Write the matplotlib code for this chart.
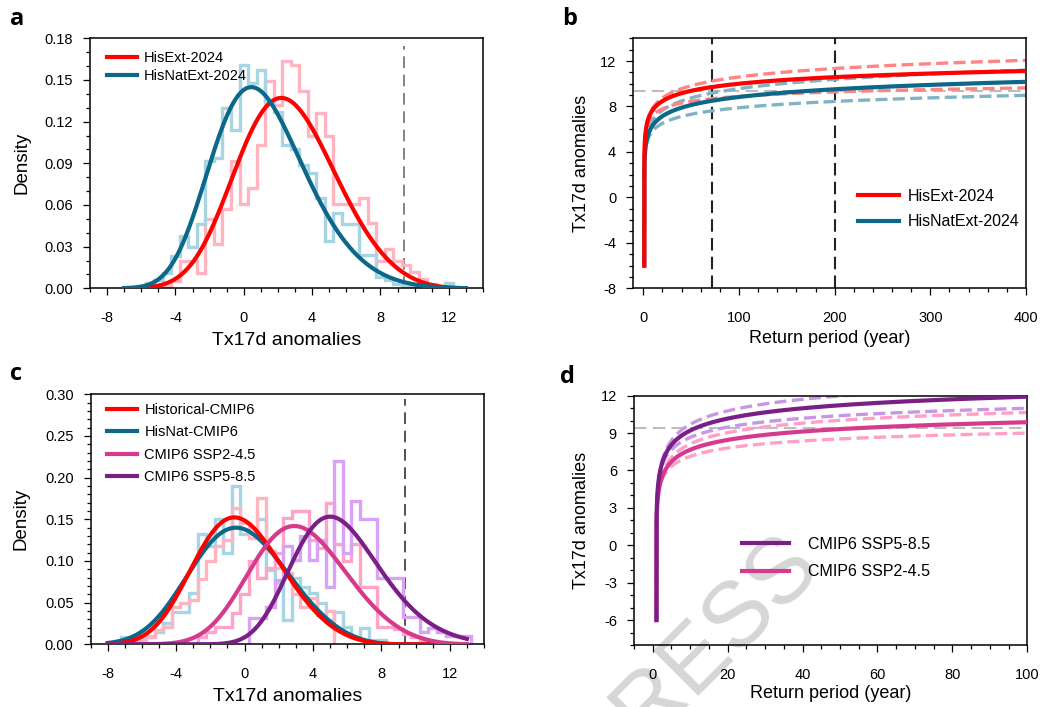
import numpy as np
import matplotlib
matplotlib.use("Agg")
import matplotlib.pyplot as plt
from matplotlib.ticker import MultipleLocator, FormatStrFormatter

plt.rcParams['font.family'] = ['Liberation Sans', 'DejaVu Sans']
plt.rcParams['axes.unicode_minus'] = False

# ---------------------------------------------------------------- data
BIN_WIDTH = 0.5
EVENT_2024 = 9.4          # observed Tx17d anomaly
RP_MARKS = [72, 200]      # return periods of the event (HisExt, HisNatExt)

# panel a: histograms (left bin edge + densities per 0.5 bin)
a_ext_left = -4.75
a_ext_dens = [0.002, 0.005, 0.020, 0.020, 0.011, 0.050, 0.032, 0.057, 0.092,
              0.061, 0.072, 0.103, 0.149, 0.132, 0.164, 0.161, 0.142, 0.110,
              0.126, 0.110, 0.061, 0.061, 0.061, 0.065, 0.047, 0.020, 0.028,
              0.020, 0.017, 0.012, 0.007, 0.003, 0.001]
a_nat_left = -6.75
a_nat_dens = [0.001, 0.002, 0.004, 0.006, 0.011, 0.023, 0.038, 0.030, 0.046,
              0.092, 0.094, 0.130, 0.114, 0.161, 0.148, 0.157, 0.135, 0.127,
              0.103, 0.100, 0.089, 0.083, 0.065, 0.034, 0.054, 0.046, 0.046,
              0.024, 0.024, 0.008, 0.006, 0.003, 0.002, 0.001, 0.001, 0.000,
              0.000, 0.004]

# panel c: histograms
c_hist_left = -6.75
c_hist_dens = [0.003, 0.005, 0.009, 0.017, 0.021, 0.045, 0.050, 0.053, 0.078,
               0.100, 0.118, 0.125, 0.164, 0.145, 0.128, 0.175, 0.112, 0.092,
               0.085, 0.060, 0.045, 0.055, 0.035, 0.040]
c_nat_left = -7.25
c_nat_dens = [0.009, 0.009, 0.009, 0.010, 0.015, 0.025, 0.039, 0.039, 0.061,
              0.132, 0.118, 0.150, 0.110, 0.190, 0.132, 0.132, 0.150, 0.089,
              0.073, 0.029, 0.079, 0.069, 0.061, 0.049, 0.029, 0.039, 0.021,
              0.009, 0.019, 0.005, 0.005]
c_245_left = -2.75
c_245_dens = [0.009, 0.015, 0.021, 0.021, 0.037, 0.060, 0.100, 0.079, 0.091,
              0.110, 0.152, 0.160, 0.160, 0.125, 0.115, 0.170, 0.120, 0.100,
              0.120, 0.069, 0.069, 0.021, 0.021, 0.018, 0.012, 0.009, 0.005,
              0.003]
c_585_left = 0.25
c_585_dens = [0.031, 0.031, 0.045, 0.077, 0.118, 0.101, 0.130, 0.101, 0.125,
              0.069, 0.220, 0.110, 0.172, 0.150, 0.150, 0.079, 0.079, 0.079,
              0.033, 0.033, 0.015, 0.020, 0.015, 0.010, 0.010, 0.010]

# fitted GEV distributions (location, scale, shape) for the density curves
a_ext_fit = (1.53, 2.755, -0.22)
a_nat_fit = (0.03, 2.57, -0.15)
c_hist_fit = (-1.20, 2.48, -0.22)
c_nat_fit = (-1.255, 2.72, -0.25)
c_245_fit = (2.26, 2.66, -0.22)
c_585_fit = (4.61, 2.43, -0.15)

# return-level fits: central estimate, upper and lower bounds
b_ext_rl = [(4.97, 1.365, -0.10), (4.97, 1.37, -0.05), (4.97, 1.18, -0.15)]
b_nat_rl = [(3.70, 1.25, -0.05), (4.19, 1.17, 0.0), (3.70, 1.02, -0.05)]
d_585_rl = [(5.23, 2.16, -0.185), (5.23, 2.43, -0.185), (5.23, 1.86, -0.185)]
d_245_rl = [(4.31, 1.85, -0.20), (4.31, 2.11, -0.20), (4.31, 1.56, -0.20)]

# ---------------------------------------------------------------- colours
RED, RED_H, RED_CI = '#ff0000', '#ffb4bf', '#ff8585'
BLUE, BLUE_H, BLUE_CI = '#0b6888', '#a8d5e4', '#80b3c6'
PINK, PINK_H, PINK_CI = '#d63a8d', '#ffa3c8', '#ff9fca'
PURP, PURP_H, PURP_CI = '#7a1f86', '#d9a2f4', '#c996e5'


def gev_t(x, mu, sigma, xi):
    z = (x - mu) / sigma
    if xi == 0:
        return np.exp(-z)
    base = np.clip(1 + xi * z, 1e-300, None)
    return base ** (-1.0 / xi)


def gev_pdf(x, mu, sigma, xi):
    t = gev_t(x, mu, sigma, xi)
    pdf = t ** (xi + 1) * np.exp(-t) / sigma
    if xi != 0:
        pdf = np.where(1 + xi * (x - mu) / sigma > 0, pdf, 0.0)
    return pdf


def return_curve(ax, params, tmax, **kw):
    x = np.linspace(-6, 14, 8000)
    exceed = -np.expm1(-gev_t(x, *params))
    with np.errstate(divide='ignore'):
        T = 1.0 / exceed
    m = T <= tmax * 1.02
    ax.plot(T[m], x[m], **kw)


def stairs(ax, left, dens, color):
    edges = left + BIN_WIDTH * np.arange(len(dens) + 1)
    ax.stairs(dens, edges, color=color, lw=2.4, zorder=2)


def style(ax):
    for s in ax.spines.values():
        s.set_linewidth(1.1)
    ax.tick_params(which='both', direction='out', top=False, right=False,
                   labelsize=10.5, width=0.9)
    ax.tick_params(which='major', length=4.8)
    ax.tick_params(axis='x', which='major', pad=11.5)
    ax.tick_params(axis='y', which='major', pad=7.5)
    ax.tick_params(which='minor', length=2.8)


fig = plt.figure(figsize=(10.43, 7.07), dpi=100)
W, H = 1043.0, 707.0


def axes_px(left, top, width, height):
    return fig.add_axes([left / W, 1 - (top + height) / H, width / W, height / H])


# ---------------------------------------------------------------- panel a
ax = axes_px(90, 38.3, 393, 250)
stairs(ax, a_ext_left, a_ext_dens, RED_H)
stairs(ax, a_nat_left, a_nat_dens, BLUE_H)
xs = np.linspace(-7, 13, 600)
ax.plot(xs, gev_pdf(xs, *a_ext_fit), color=RED, lw=3.0, zorder=3,
        label='HisExt-2024')
ax.plot(xs, gev_pdf(xs, *a_nat_fit), color=BLUE, lw=3.0, zorder=3,
        label='HisNatExt-2024')
ax.axvline(EVENT_2024, ymax=0.97, color='#6e6e6e', lw=1.2,
           linestyle=(0, (7, 4)), zorder=1)
ax.set_xlim(-9, 14)
ax.set_ylim(0, 0.18)
ax.xaxis.set_major_locator(MultipleLocator(4))
ax.xaxis.set_minor_locator(MultipleLocator(1))
ax.yaxis.set_major_locator(MultipleLocator(0.03))
ax.yaxis.set_minor_locator(MultipleLocator(0.01))
ax.yaxis.set_major_formatter(FormatStrFormatter('%.2f'))
style(ax)
ax.set_xlabel('Tx17d anomalies', fontsize=14)
ax.xaxis.set_label_coords(0.5, -0.207)
ax.xaxis.label.set_va('center')
ax.set_ylabel('Density', fontsize=13.5)
ax.yaxis.set_label_coords(-0.174, 0.5)
ax.yaxis.label.set_va('center')
ax.legend(loc='upper left', bbox_to_anchor=(0.043, 0.95), frameon=False,
          fontsize=10.5, handlelength=2.05, handletextpad=0.48,
          labelspacing=0.29, borderpad=0, borderaxespad=0)

# ---------------------------------------------------------------- panel b
ax = axes_px(633.3, 38.3, 392.7, 250)
ax.axhline(EVENT_2024, color='#bdbdbd', lw=1.5, linestyle=(0, (6, 3)),
           zorder=1)
for t in RP_MARKS:
    ax.axvline(t, color='#222222', lw=1.5, linestyle=(0, (6, 3)), zorder=1)
for p in b_nat_rl[1:]:
    return_curve(ax, p, 400, color=BLUE_CI, lw=2.4,
                 linestyle=(0, (3.6, 1.6)), zorder=2)
for p in b_ext_rl[1:]:
    return_curve(ax, p, 400, color=RED_CI, lw=2.4,
                 linestyle=(0, (3.6, 1.6)), zorder=2)
return_curve(ax, b_nat_rl[0], 400, color=BLUE, lw=3.0, zorder=3)
return_curve(ax, b_ext_rl[0], 400, color=RED, lw=3.0, zorder=4)
ax.plot([], [], color=RED, lw=3.0, label='HisExt-2024')
ax.plot([], [], color=BLUE, lw=3.0, label='HisNatExt-2024')
ax.set_xlim(-10.5, 400)
ax.set_ylim(-8, 14)
ax.xaxis.set_major_locator(MultipleLocator(100))
ax.xaxis.set_minor_locator(MultipleLocator(20))
ax.yaxis.set_major_locator(MultipleLocator(4))
ax.yaxis.set_minor_locator(MultipleLocator(1))
style(ax)
ax.set_xlabel('Return period (year)', fontsize=13)
ax.xaxis.set_label_coords(0.5, -0.199)
ax.xaxis.label.set_va('center')
ax.set_ylabel('Tx17d anomalies', fontsize=13)
ax.yaxis.set_label_coords(-0.131, 0.5)
ax.yaxis.label.set_va('center')
ax.legend(loc='upper left', bbox_to_anchor=(0.572, 0.398), frameon=False,
          fontsize=11.5, handlelength=2.6, handletextpad=0.5,
          labelspacing=0.66, borderpad=0, borderaxespad=0)

# ---------------------------------------------------------------- panel c
ax = axes_px(90.7, 394.3, 393.3, 250)
stairs(ax, c_nat_left, c_nat_dens, BLUE_H)
stairs(ax, c_hist_left, c_hist_dens, RED_H)
stairs(ax, c_245_left, c_245_dens, PINK_H)
stairs(ax, c_585_left, c_585_dens, PURP_H)
xs = np.linspace(-8, 13, 600)
l_nat, = ax.plot(xs, gev_pdf(xs, *c_nat_fit), color=BLUE, lw=3.0, zorder=3)
l_his, = ax.plot(xs, gev_pdf(xs, *c_hist_fit), color=RED, lw=3.0, zorder=3)
l_245, = ax.plot(xs, gev_pdf(xs, *c_245_fit), color=PINK, lw=3.0, zorder=3)
l_585, = ax.plot(xs, gev_pdf(xs, *c_585_fit), color=PURP, lw=3.0, zorder=3)
ax.axvline(EVENT_2024, ymax=0.98, color='#333333', lw=1.2,
           linestyle=(0, (7, 4)), zorder=1)
ax.set_xlim(-9, 14)
ax.set_ylim(0, 0.30)
ax.xaxis.set_major_locator(MultipleLocator(4))
ax.xaxis.set_minor_locator(MultipleLocator(1))
ax.yaxis.set_major_locator(MultipleLocator(0.05))
ax.yaxis.set_minor_locator(MultipleLocator(0.01))
ax.yaxis.set_major_formatter(FormatStrFormatter('%.2f'))
style(ax)
ax.set_xlabel('Tx17d anomalies', fontsize=14)
ax.xaxis.set_label_coords(0.5, -0.21)
ax.xaxis.label.set_va('center')
ax.set_ylabel('Density', fontsize=13.5)
ax.yaxis.set_label_coords(-0.176, 0.5)
ax.yaxis.label.set_va('center')
ax.legend([l_his, l_nat, l_245, l_585],
          ['Historical-CMIP6', 'HisNat-CMIP6', 'CMIP6 SSP2-4.5',
           'CMIP6 SSP5-8.5'],
          loc='upper left', bbox_to_anchor=(0.041, 0.964), frameon=False,
          fontsize=10.5, handlelength=2.1, handletextpad=0.48,
          labelspacing=0.56, borderpad=0, borderaxespad=0)

# ---------------------------------------------------------------- panel d
ax = axes_px(634, 395.7, 393.3, 249.3)
ax.axhline(EVENT_2024, color='#bdbdbd', lw=1.5, linestyle=(0, (6, 3)),
           zorder=1)
for p in d_245_rl[1:]:
    return_curve(ax, p, 100, color=PINK_CI, lw=2.4,
                 linestyle=(0, (3.6, 1.6)), zorder=2)
for p in d_585_rl[1:]:
    return_curve(ax, p, 100, color=PURP_CI, lw=2.4,
                 linestyle=(0, (3.6, 1.6)), zorder=2)
return_curve(ax, d_245_rl[0], 100, color=PINK, lw=3.0, zorder=3)
return_curve(ax, d_585_rl[0], 100, color=PURP, lw=3.0, zorder=4)
ax.plot([], [], color=PURP, lw=3.0, label='CMIP6 SSP5-8.5')
ax.plot([], [], color=PINK, lw=3.0, label='CMIP6 SSP2-4.5')
ax.set_xlim(-5, 100)
ax.set_ylim(-8, 12)
ax.xaxis.set_major_locator(MultipleLocator(20))
ax.xaxis.set_minor_locator(MultipleLocator(5))
ax.yaxis.set_major_locator(MultipleLocator(3))
ax.yaxis.set_minor_locator(MultipleLocator(1))
style(ax)
ax.set_xlabel('Return period (year)', fontsize=13)
ax.xaxis.set_label_coords(0.5, -0.193)
ax.xaxis.label.set_va('center')
ax.set_ylabel('Tx17d anomalies', fontsize=13)
ax.yaxis.set_label_coords(-0.133, 0.5)
ax.yaxis.label.set_va('center')
ax.legend(loc='upper left', bbox_to_anchor=(0.275, 0.434), frameon=False,
          fontsize=11.5, handlelength=2.94, handletextpad=1.19,
          labelspacing=0.79, borderpad=0, borderaxespad=0)

# "PRESS" stamp: sits above the panel background but beneath its lines,
# ticks and labels, and runs off the lower edge of the page
ax.text(695 / W, 1 - 658 / H, 'PRESS', transform=fig.transFigure,
        fontsize=66, color='#d6d6d6', rotation=45, ha='center',
        va='center', rotation_mode='anchor', clip_on=False, zorder=0.5)

# ---------------------------------------------------------------- labels
for letter, xp, yp in [('a', 10, 25), ('b', 562, 25), ('c', 10, 380),
                       ('d', 560, 383)]:
    fig.text(xp / W, 1 - yp / H, letter, fontsize=17, fontweight='bold',
             family=['Open Sans', 'DejaVu Sans'], va='baseline', ha='left')

fig.savefig('out.png', dpi=100)
